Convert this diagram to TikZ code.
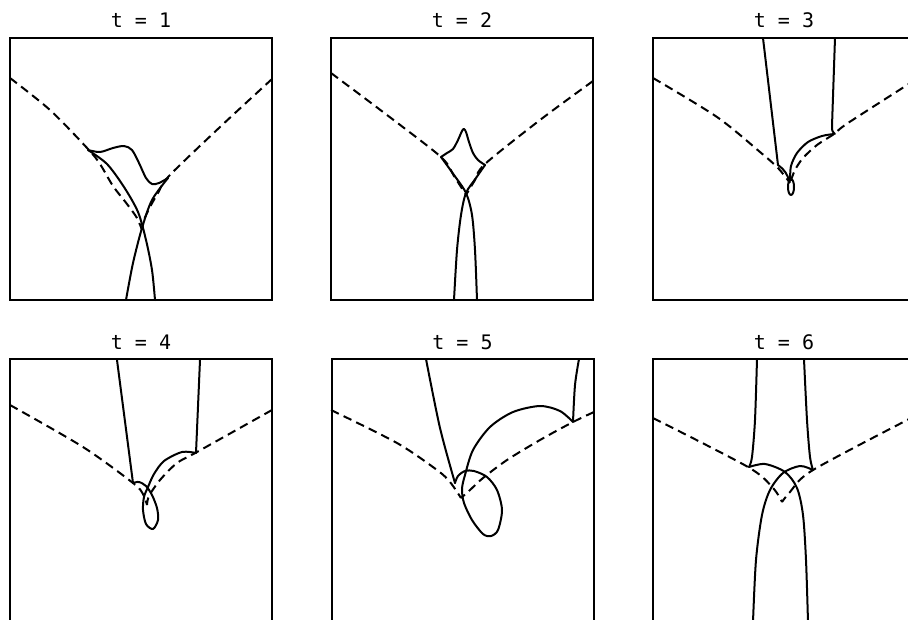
\documentclass[tikz,border=0pt]{standalone}
\usepackage{fontspec}
\usetikzlibrary{positioning}
\newfontfamily\titlefont{DejaVu Sans Mono}
\tikzset{
    panelBox/.style={
        rectangle,
        draw,
        line width=1.5pt,
        minimum width=196.5pt,
        minimum height=196.5pt,
        inner sep=0pt
    },
    panelTitle/.style={font=\titlefont\fontsize{15}{17}\selectfont, inner sep=0pt},
    % curves
    solidCurve/.style={line width=1.5pt, line join=round, line cap=round},
    dashCurve/.style={line width=1.5pt, dash pattern=on 6.5pt off 4pt}
}
\begin{document}
\begin{tikzpicture}[x=0.75pt, y=-0.75pt]
\useasboundingbox (0,0) rectangle (908,619);
\clip (0,0) rectangle (908,619);

\node[panelBox] (box1) at (141,169) {};
\node[panelBox] (box2) at (462,169) {};
\node[panelBox] (box3) at (784,169) {};
\node[panelBox] (box4) at (141,490) {};
\node[panelBox] (box5) at (462.5,490) {};
\node[panelBox] (box6) at (784,490) {};

\node[panelTitle, above=7pt of box1] (t1) {t = 1};
\node[panelTitle, above=7pt of box2] (t2) {t = 2};
\node[panelTitle, above=7pt of box3] (t3) {t = 3};
\node[panelTitle, above=6pt of box4] (t4) {t = 4};
\node[panelTitle, above=6pt of box5] (t5) {t = 5};
\node[panelTitle, above=6pt of box6] (t6) {t = 6};

% t = 1
\draw[dashCurve] plot[smooth] coordinates {(10,78) (50,110) (88,149) (100,164) (113,186) (127,204) (137,218) (142,230)};
\draw[dashCurve] plot[smooth] coordinates {(272,79) (220,127) (169,176) (158,193) (150,207) (144,220) (142,230)};
\draw[solidCurve] plot[smooth] coordinates {(88,150) (100,152) (113,148) (124,146) (132,150) (139,163) (146,178) (152,184) (159,183) (168,178)};
\draw[solidCurve] plot[smooth] coordinates {(88,150) (107,164) (124,187) (138,212) (146,240) (152,270) (155,300)};
\draw[solidCurve] plot[smooth] coordinates {(168,178) (152,200) (142,228) (133,263) (126,300)};

% t = 2
\draw[dashCurve] plot[smooth] coordinates {(331,73) (387,115) (441,157) (454,176) (466,195)};
\draw[dashCurve] plot[smooth] coordinates {(593,81) (540,120) (485,164) (475,180) (466,195)};
\draw[solidCurve] plot[smooth] coordinates {(441,157) (447,153) (453,149) (458,140) (462,131) (464,129) (466,132) (469,142) (473,153) (478,160) (485,165)};
\draw[solidCurve] plot[smooth] coordinates {(441,157) (454,175) (466,193) (472,215) (475,250) (477,300)};
\draw[solidCurve] plot[smooth] coordinates {(485,165) (476,178) (466,193) (461,215) (457,250) (454,300)};

% t = 3
\draw[dashCurve] plot[smooth] coordinates {(653,78) (717,117) (760,152) (778,168) (790,183)};
\draw[dashCurve] plot[smooth] coordinates {(915,80) (848,123) (834,134) (817,145) (803,158) (795,170) (790,183)};
\draw[solidCurve] (763,38) -- (778,165) .. controls (784,169) and (788,175) .. (789,181);
\draw[solidCurve] (791,187) ellipse [x radius=3, y radius=8];
\draw[solidCurve] plot[smooth] coordinates {(790,181) (791,166) (797,153) (808,142) (822,136) (834,134)};
\draw[solidCurve] (835,38) -- (832,126) .. controls (832,131) .. (835,134);

% t = 4
\draw[dashCurve] plot[smooth] coordinates {(10,405) (83,447) (133,483) (143,494) (147,505)};
\draw[dashCurve] plot[smooth] coordinates {(272,410) (197,452) (177,463) (160,480) (149,496) (147,505)};
\draw[solidCurve] (117,360) -- (133,483);
\draw[solidCurve] plot[smooth] coordinates {(133,483) (139,482) (146,486) (152,495) (157,508) (158,520) (153,529) (146,524) (143,510) (144,497) (148,487) (154,474) (164,461) (182,452) (196,453)};
\draw[solidCurve] (196,453) -- (200,360);

% t = 5
\draw[dashCurve] plot[smooth] coordinates {(331,410) (397,443) (437,470) (450,482) (461,498)};
\draw[dashCurve] plot[smooth] coordinates {(594,412) (573,422) (540,440) (507,460) (483,478) (470,490) (461,498)};
\draw[solidCurve] plot[smooth] coordinates {(426,359) (440,428) (455,483)};
\draw[solidCurve] plot[smooth] coordinates {(455,483) (458,476) (465,471) (474,471) (487,477) (497,490) (502,510) (498,530) (491,536) (483,534) (472,520) (464,503) (462,489) (465,475) (473,450) (490,427) (513,412) (540,406) (560,411) (573,422)};
\draw[solidCurve] plot[smooth] coordinates {(573,422) (575,385) (579,359)};

% t = 6
\draw[dashCurve] plot[smooth] coordinates {(653,418) (748,467) (773,488) (782,502)};
\draw[dashCurve] plot[smooth] coordinates {(915,416) (813,470) (790,492) (782,502)};
\draw[solidCurve] plot[smooth] coordinates {(757,359) (755,420) (752,457) (749,467)};
\draw[solidCurve] plot[smooth] coordinates {(804,359) (807,420) (810,457) (813,470)};
\draw[solidCurve] plot[smooth] coordinates {(749,467) (765,464) (785,472) (797,488) (803,515) (806,560) (808,622)};
\draw[solidCurve] plot[smooth] coordinates {(813,470) (800,466) (783,473) (770,490) (762,515) (756,560) (753,622)};
\end{tikzpicture}
\end{document}
